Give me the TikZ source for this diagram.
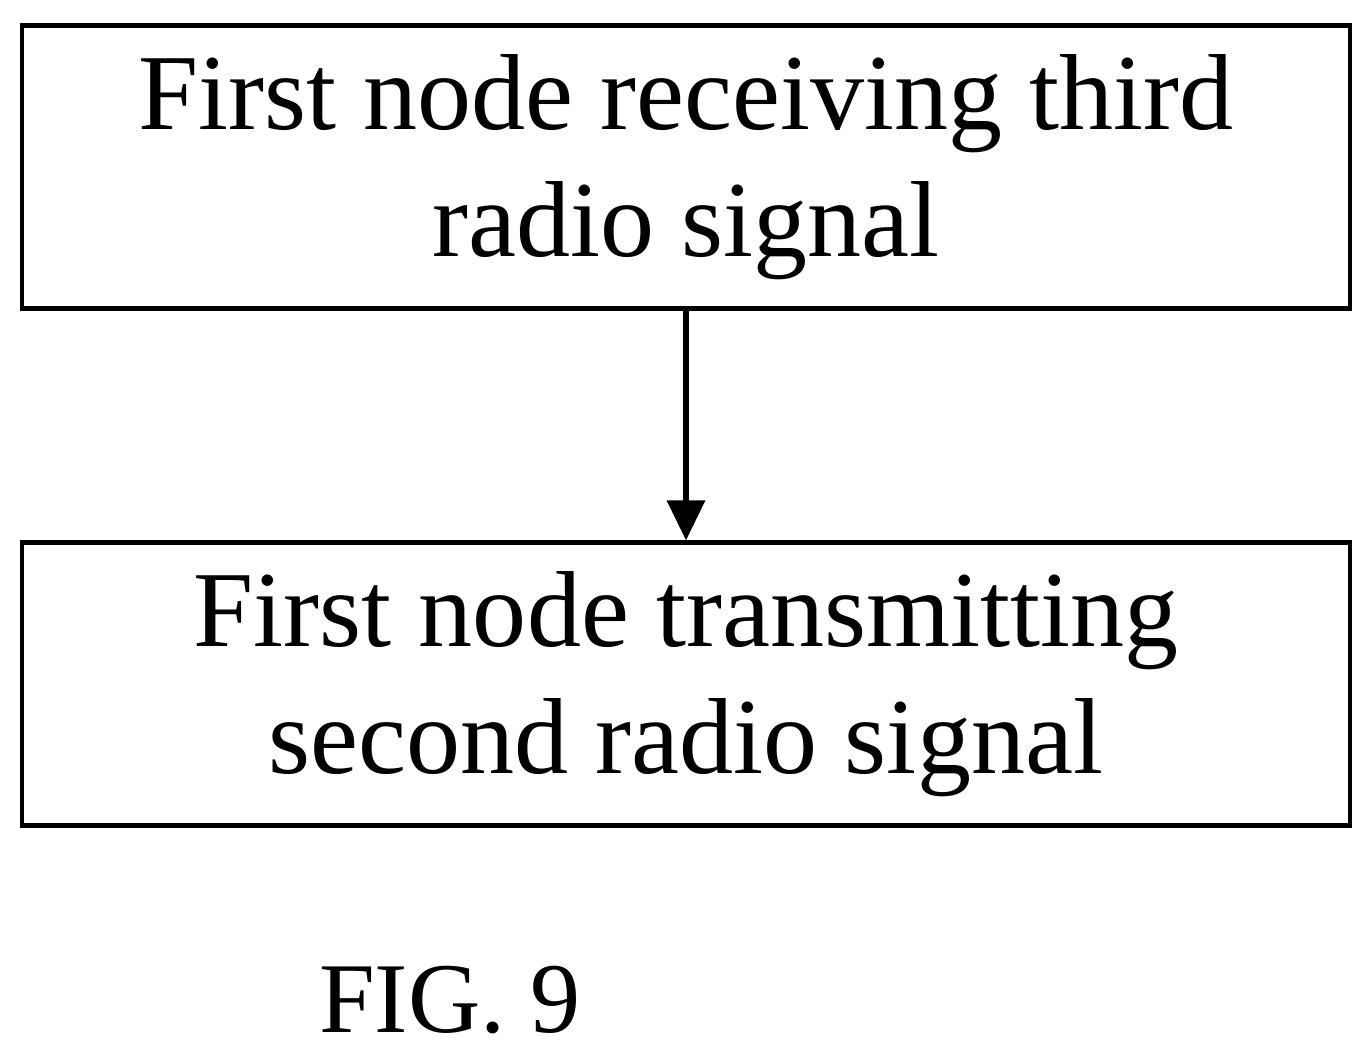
\documentclass[tikz,border=0pt]{standalone}
\usepackage{fontspec}
\setmainfont{Liberation Serif}
\usetikzlibrary{arrows.meta}
\begin{document}
\begin{tikzpicture}[x=0.02cm,y=-0.02cm,
  box/.style={draw,line width=2.5pt,minimum width=26.56cm,minimum height=5.66cm,align=center,font=\fontsize{61.5}{72}\selectfont,inner sep=0pt},
  arr/.style={-{Triangle[length=0.8cm,width=0.75cm]},line width=3pt}]
\useasboundingbox (0,0) rectangle (1371,1052);
\node[box] (a) at (686,167) {First node receiving third\\radio signal};
\node[box] (b) at (686,684) {First node transmitting\\second radio signal};
\draw[arr] (a) -- (b);
\node[font=\fontsize{57}{60}\selectfont] (f) at (450,1000) {FIG. 9};
\end{tikzpicture}
\end{document}
